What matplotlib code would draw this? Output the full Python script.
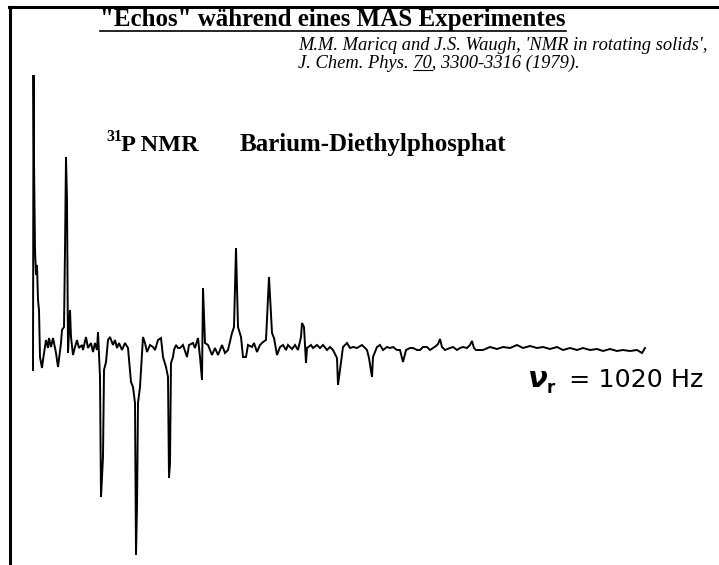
import matplotlib
matplotlib.use('Agg')
import matplotlib.pyplot as plt
from matplotlib.lines import Line2D

W, H = 719, 565

# --- echo train ---
# time in chart units from the first point, signal relative to the baseline
time = [0, 0.5, 1, 2, 3, 4, 5, 6, 7, 9, 10, 13, 15, 16, 18, 20, 23, 25, 28, 29,
        31, 32, 33, 34, 35, 37, 38, 40, 42, 44, 46, 49, 50, 53, 55, 58, 60, 62, 64, 65,
        67, 68, 70, 71, 73, 75, 77, 80, 82, 84, 86, 89, 92, 95, 98, 100, 102, 103, 104, 105,
        107, 110, 112, 114, 117, 120, 122, 125, 128, 130, 133, 135, 136, 137, 138, 140, 141, 143, 145, 147,
        150, 154, 156, 160, 162, 165, 167, 169, 170, 172, 175, 179, 182, 185, 189, 192, 195, 199, 201, 203,
        205, 208, 210, 213, 215, 219, 221, 224, 227, 230, 233, 236, 239, 241, 244, 247, 250, 253, 255, 259,
        262, 265, 268, 269, 271, 273, 274, 278, 280, 284, 287, 290, 294, 297, 300, 304, 305, 307, 310, 314,
        317, 320, 324, 329, 334, 336, 339, 340, 344, 347, 350, 354, 357, 360, 364, 367, 370, 373, 377, 380,
        384, 387, 390, 394, 397, 400, 403, 405, 407, 409, 412, 417, 420, 424, 427, 430, 434, 437, 439, 441,
        443, 450, 457, 464, 470, 477, 484, 490, 497, 504, 510, 517, 524, 530, 537, 544, 550, 557, 564, 570,
        577, 584, 590, 597, 604, 609, 612]
signal = [-20, 275, 190, 100, 75, 85, 50, 40, -7, -18, -10, 10, 2, 12, 3, 12, -3, -17, 7, 20,
          23, 100, 193, 150, -3, 40, 13, -5, 3, 10, 2, 5, 0, 13, 2, 7, -2, 7, 0, 18,
          -27, -147, -107, -20, -12, 10, 13, 5, 10, 2, 7, 0, 7, 2, -32, -37, -53, -205, -157, -53,
          -37, 13, 7, -2, 5, 3, 0, 10, 12, -7, -17, -27, -128, -113, -13, -7, 0, 5, 2, 2,
          5, -7, 5, 7, 2, 12, -7, -30, 62, 7, 5, -5, 2, -5, 5, -3, 0, 17, 23, 102,
          23, 13, -7, -7, 5, 3, 7, -2, 5, 8, 10, 73, 17, 12, -5, 3, 5, 0, 5, 1,
          5, 0, 13, 27, 23, -13, 2, 5, 2, 5, 2, 5, 0, 3, 0, -8, -35, -20, 3, 7,
          2, 3, 2, 5, 0, -8, -27, -7, 3, 5, 0, 3, 2, 3, 0, 0, -12, 0, 2, 2,
          0, 0, 3, 3, 0, 2, 4, 6, 11, 3, 0, 2, 3, 0, 2, 3, 2, 5, 9, 2,
          0, 0, 3, 1, 3, 2, 5, 2, 4, 2, 3, 1, 3, 0, 2, 0, 2, 0, 1, -1,
          1, -1, 0, -1, 0, -3, 2]

title = '"Echos" während eines MAS Experimentes'
ref_line1 = "M.M. Maricq and J.S. Waugh, 'NMR in rotating solids',"
ref_line2 = 'J. Chem. Phys. 70, 3300-3316 (1979).'
volume = '70'
isotope = '31'
nucleus = 'P NMR'
sample = 'Barium-Diethylphosphat'
spin_rate = '= 1020 Hz'

serif = 'Liberation Serif'

fig = plt.figure(figsize=(W / 100, H / 100), dpi=100)
ax = fig.add_axes([0, 0, 1, 1])
ax.plot(time, signal, color='black', lw=1.4, solid_joinstyle='miter')
ax.set_xlim(-33, W - 33)
ax.set_ylim(350 - H, 350)
ax.axis('off')


def fx(px):
    return px / W


def fy(py):
    return 1 - py / H


# open frame, top and left only
fig.add_artist(Line2D([fx(9), 1], [fy(7), fy(7)], color='black', lw=2.2))
fig.add_artist(Line2D([fx(10), fx(10)], [0, fy(7)], color='black', lw=2.2))

t_title = fig.text(fx(100), fy(26), title, family=serif, weight='bold', fontsize=18)
fig.text(fx(298), fy(50), ref_line1, family=serif, style='italic', fontsize=13.3)
fig.text(fx(298), fy(68), ref_line2, family=serif, style='italic', fontsize=13.3)

fig.text(fx(106), fy(141), isotope, family=serif, weight='bold', fontsize=11.5)
fig.text(fx(121), fy(151), nucleus, family=serif, weight='bold', fontsize=17.5)
fig.text(fx(240), fy(151), sample, family=serif, weight='bold', fontsize=18)

fig.text(fx(527), fy(387), 'ν', family='DejaVu Sans', style='italic', weight='bold', fontsize=21)
fig.text(fx(547), fy(393), 'r', family='DejaVu Sans', weight='bold', fontsize=12)
fig.text(fx(569), fy(387), spin_rate, family='DejaVu Sans', fontsize=18.3)

# underlines need the rendered text extents
fig.canvas.draw()
r = fig.canvas.get_renderer()
bb = t_title.get_window_extent(r)
fig.add_artist(Line2D([bb.x0 / W, bb.x1 / W], [fy(31), fy(31)], color='black', lw=1.2))

prefix = ref_line2[:ref_line2.index(volume) + len(volume)]
probe = fig.text(fx(298), fy(68), prefix, family=serif, style='italic', fontsize=13.3)
probe2 = fig.text(fx(298), fy(68), volume, family=serif, style='italic', fontsize=13.3)
fig.canvas.draw()
x_end = probe.get_window_extent(r).x1
x_start = x_end - probe2.get_window_extent(r).width
probe.remove()
probe2.remove()
fig.add_artist(Line2D([x_start / W, x_end / W], [fy(70), fy(70)], color='black', lw=0.8))

fig.savefig('out.png', dpi=100)
